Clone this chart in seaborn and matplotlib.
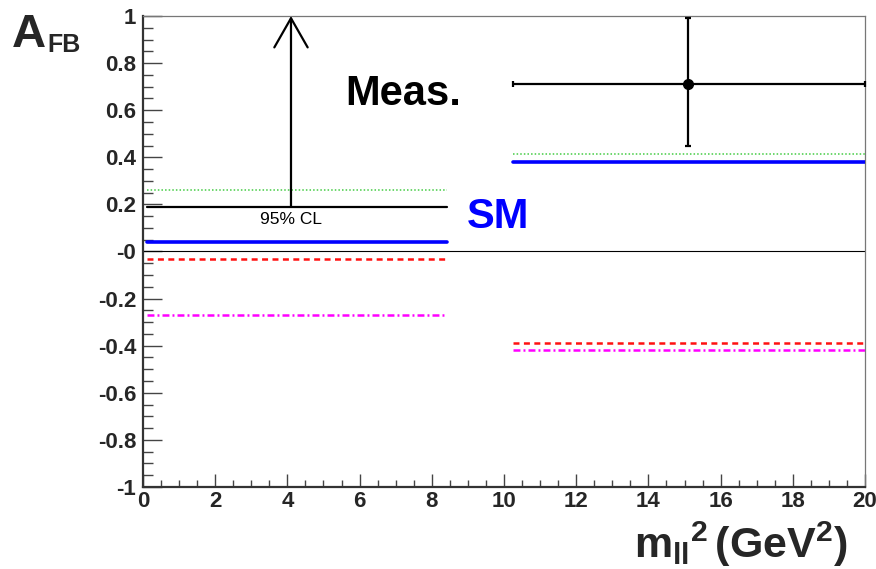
import matplotlib
matplotlib.use("Agg")
import matplotlib.pyplot as plt
from matplotlib.ticker import MultipleLocator, FuncFormatter
import seaborn as sns

# q^2 bins (GeV^2)
bin_edges = [(0.1, 8.41), (10.24, 20.0)]

# Model predictions of A_FB in each bin
model_names = ["SM", "C7 flipped", "C9C10 flipped", "C7C9C10 flipped"]
model_values = {
    "SM": [0.04, 0.38],
    "C7 flipped": [0.26, 0.415],
    "C9C10 flipped": [-0.03, -0.39],
    "C7C9C10 flipped": [-0.27, -0.42],
}

# Low-q^2 bin: 95% CL lower limit
limit_value = 0.19
limit_x = 4.1

# High-q^2 bin: measurement
meas_x = 15.1
meas_y = 0.71
meas_err_lo = 0.26
meas_err_hi = 0.28

sns.set_style("white")
plt.rcParams["font.family"] = ["Liberation Sans", "DejaVu Sans"]
plt.rcParams["mathtext.fontset"] = "custom"
plt.rcParams["mathtext.rm"] = "Liberation Sans"
plt.rcParams["mathtext.bf"] = "Liberation Sans:bold"
plt.rcParams["mathtext.it"] = "Liberation Sans:italic"
plt.rcParams["lines.scale_dashes"] = False

styles = {
    "SM": dict(color="#0000ff", lw=2.6, ls="-"),
    "C7 flipped": dict(color="#44cc44", lw=1.1, ls=(0, (1.1, 1.5))),
    "C9C10 flipped": dict(color="#ff1111", lw=1.8, ls=(0, (4.3, 3.2))),
    "C7C9C10 flipped": dict(color="#ff00ff", lw=1.8, ls=(0, (5.0, 2.2, 1.4, 2.2))),
}

fig = plt.figure(figsize=(8.76, 5.69), dpi=100)
ax = fig.add_axes([0.1632, 0.1441, 0.9875 - 0.1632, 0.9719 - 0.1441])

# zero line
ax.axhline(0.0, color="black", lw=0.8, zorder=1)

# model predictions, one segment per bin
for name in model_names:
    st = styles[name]
    for (x0, x1), v in zip(bin_edges, model_values[name]):
        sns.lineplot(x=[x0, x1], y=[v, v], ax=ax, color=st["color"],
                     linewidth=st["lw"], linestyle=st["ls"],
                     estimator=None, sort=False, zorder=3)

# 95% CL limit with arrow in low-q^2 bin
lx0, lx1 = bin_edges[0]
sns.lineplot(x=[lx0, lx1], y=[limit_value, limit_value], ax=ax,
             color="black", linewidth=1.6, estimator=None, sort=False, zorder=4)
ax.annotate("", xy=(limit_x, 1.0), xytext=(limit_x, limit_value),
            arrowprops=dict(arrowstyle="->,head_length=2.1,head_width=1.2",
                            color="black", lw=1.6, shrinkA=0, shrinkB=0),
            zorder=4)
ax.text(limit_x, limit_value - 0.022, "95% CL", ha="center", va="top",
        fontsize=12.5, color="black")

# measurement in high-q^2 bin
hx0, hx1 = bin_edges[1]
ax.errorbar([meas_x], [meas_y],
            xerr=[[meas_x - hx0], [hx1 - meas_x]],
            yerr=[[meas_err_lo], [meas_err_hi]],
            fmt="o", color="black", ms=7, lw=1.6, capsize=2.5, capthick=1.6,
            zorder=5, clip_on=False)

# annotations
ax.text(5.6, 0.62, "Meas.", fontsize=30, fontweight="bold", ha="left",
        va="baseline", color="black")
ax.text(8.97, 0.10, "SM", fontsize=30, fontweight="bold", ha="left",
        va="baseline", color="#0000ff")

# axes
ax.set_xlim(0, 20)
ax.set_ylim(-1, 1)
ax.xaxis.set_major_locator(MultipleLocator(2))
ax.xaxis.set_minor_locator(MultipleLocator(0.5))
ax.yaxis.set_major_locator(MultipleLocator(0.2))
ax.yaxis.set_minor_locator(MultipleLocator(0.05))


def yfmt(v, pos):
    if abs(v) < 1e-9:
        return "-0"
    if abs(abs(v) - 1) < 1e-9:
        return "%d" % round(v)
    return ("%.1f" % v)


ax.yaxis.set_major_formatter(FuncFormatter(yfmt))
ax.xaxis.set_major_formatter(FuncFormatter(lambda v, p: "%d" % round(v)))

ax.tick_params(which="both", left=True, bottom=True, top=False, right=False)
ax.tick_params(axis="y", which="major", direction="in", length=14,
               width=1.0, color="#444444", pad=5, labelsize=16)
ax.tick_params(axis="y", which="minor", direction="in", length=7,
               width=1.0, color="#444444")
ax.tick_params(axis="x", which="major", direction="in", length=9.5,
               width=1.0, color="#444444", pad=3, labelsize=16)
ax.tick_params(axis="x", which="minor", direction="in", length=5,
               width=1.0, color="#444444")
for lab in ax.get_xticklabels() + ax.get_yticklabels():
    lab.set_fontweight("bold")

ax.spines["left"].set_color("#333333")
ax.spines["left"].set_linewidth(1.6)
ax.spines["bottom"].set_color("#333333")
ax.spines["bottom"].set_linewidth(1.6)
ax.spines["top"].set_color("#777777")
ax.spines["top"].set_linewidth(0.9)
ax.spines["right"].set_color("#777777")
ax.spines["right"].set_linewidth(0.9)
ax.set_xlabel("")
ax.set_ylabel("")

# axis titles
fig.text(12 / 876, 1 - 47 / 569, "A", fontsize=34, fontweight="bold",
         ha="left", va="baseline")
fig.text(47 / 876, 1 - 52 / 569, "FB", fontsize=18, fontweight="bold",
         ha="left", va="baseline")
fig.text(848 / 876, 1 - 558 / 569, r"$\mathbf{m_{ll}{}^{2}\,(GeV^{2})}$",
         fontsize=31, ha="right", va="baseline")

fig.savefig("out.png", dpi=100)
